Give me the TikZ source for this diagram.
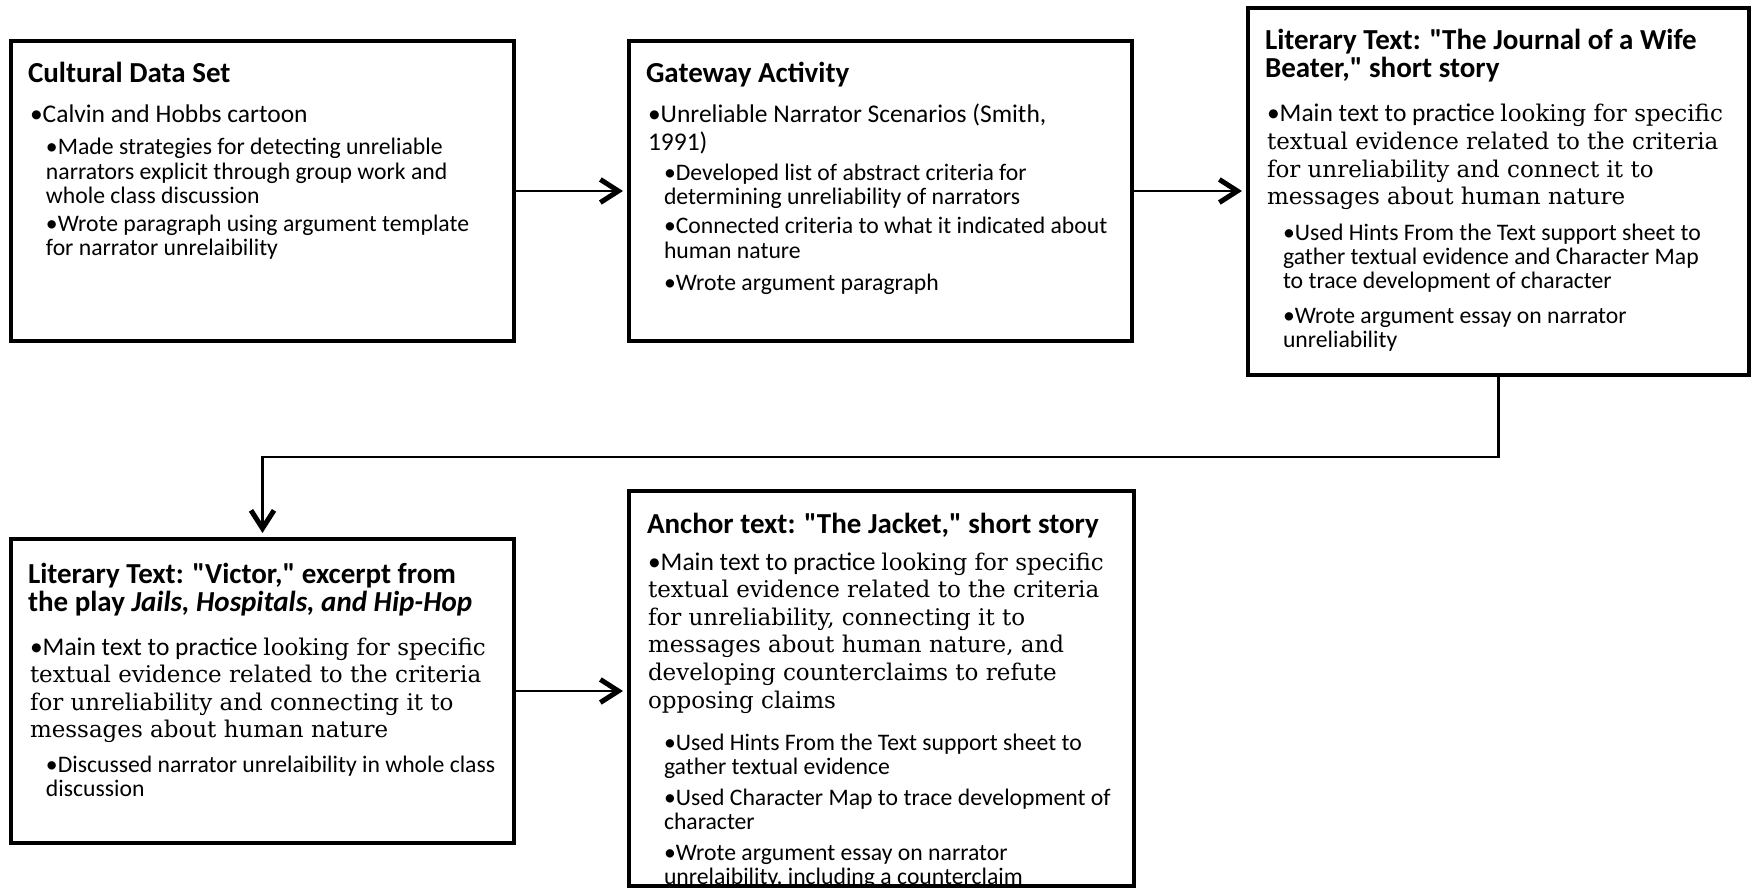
\documentclass[tikz,border=0pt]{standalone}
\usepackage{fontspec}
\setmainfont{Carlito}
\newfontfamily\gserif{DejaVu Serif}
\usetikzlibrary{arrows.meta}
\newsavebox\bulbox
\newcommand{\qt}{{\XeTeXglyph\XeTeXcharglyph"22\relax}}
\newcommand{\ttlf}{\fontsize{14.5pt}{14pt}\selectfont\bfseries}
\newcommand{\laf}{\fontsize{12.75pt}{13.5pt}\selectfont}
\newcommand{\sbf}{\fontsize{11.85pt}{12.25pt}\selectfont}
\newcommand{\serf}{\gserif\fontsize{11.5pt}{13.8pt}\selectfont}
\newcommand{\Blt}[2]{\parbox[t]{270pt}{#1\raggedright\sbox\bulbox{•}\hangindent=\wd\bulbox\hangafter=1\noindent\usebox\bulbox#2}}
\newcommand{\Ttl}[1]{\parbox[t]{270pt}{\ttlf\raggedright #1}}
\tikzset{
  box/.style={draw, line width=2.15pt, inner sep=0pt, outer sep=0pt},
  txt/.style={anchor=base west, inner sep=0pt, outer sep=0pt},
  conn/.style={line width=1.3pt, -{Straight Barb[length=9pt,width=11.5pt,line width=2.5pt]}, shorten >=3pt}
}
\begin{document}
\begin{tikzpicture}[x=0.5pt,y=-0.5pt]
\useasboundingbox (0,0) rectangle (1751,888);
\fill[white] (0,0) rectangle (1751,888);
% boxes
\node[box, minimum width=251.5pt, minimum height=150pt] (b1) at (262.5,191) {};
\node[box, minimum width=251.5pt, minimum height=150pt] (b2) at (880.5,191) {};
\node[box, minimum width=250.5pt, minimum height=183.5pt] (b3) at (1498.5,191.5) {};
\node[box, minimum width=251.5pt, minimum height=152pt] (b4) at (262.5,691) {};
\node[box, minimum width=252.5pt, minimum height=197.5pt] (b5) at (881.5,688.5) {};
% box 1
\node[txt] (t1a) at (28,83) {\Ttl{Cultural Data Set}};
\node[txt] (t1b) at (30,123) {\Blt{\laf}{Calvin and Hobbs cartoon}};
\node[txt] (t1c) at (46,155) {\Blt{\sbf}{Made strategies for detecting unreliable\\ narrators explicit through group work and\\ whole class discussion}};
\node[txt] (t1d) at (46,231) {\Blt{\sbf}{Wrote paragraph using argument template\\ for narrator unrelaibility}};
% box 2
\node[txt] (t2a) at (646,83) {\Ttl{Gateway Activity}};
\node[txt] (t2b) at (648,123) {\Blt{\laf}{Unreliable Narrator Scenarios (Smith,\\ 1991)}};
\node[txt] (t2c) at (664,180) {\Blt{\sbf}{Developed list of abstract criteria for\\ determining unreliability of narrators}};
\node[txt] (t2d) at (664,234) {\Blt{\sbf}{Connected criteria to what it indicated about\\ human nature}};
\node[txt] (t2e) at (664,290) {\Blt{\sbf}{Wrote argument paragraph}};
% box 3
\node[txt] (t3a) at (1265,50) {\Ttl{Literary Text: \qt The Journal of a Wife\\ Beater,\qt{} short story}};
\node[txt] (t3b) at (1267,122) {\Blt{\laf}{Main text to practice {\serf looking for specific\\ textual evidence related to the criteria\\ for unreliability and connect it to\\ messages about human nature\par}}};
\node[txt] (t3c) at (1283,240) {\Blt{\sbf}{Used Hints From the Text support sheet to\\ gather textual evidence and Character Map\\ to trace development of character}};
\node[txt] (t3d) at (1283,323) {\Blt{\sbf}{Wrote argument essay on narrator\\ unreliability}};
% box 4
\node[txt] (t4a) at (28,583) {\Ttl{Literary Text: \qt Victor,\qt{} excerpt from\\ the play \textit{Jails, Hospitals, and Hip-Hop}}};
\node[txt] (t4b) at (30,655) {\Blt{\laf}{Main text to practice {\serf looking for specific\\ textual evidence related to the criteria\\ for unreliability and connecting it to\\ messages about human nature\par}}};
\node[txt] (t4c) at (46,772) {\Blt{\sbf}{Discussed narrator unrelaibility in whole class\\ discussion}};
% box 5
\node[txt] (t5a) at (647,533) {\Ttl{Anchor text: \qt The Jacket,\qt{} short story}};
\node[txt] (t5b) at (648,570) {\Blt{\laf}{Main text to practice {\serf looking for specific\\ textual evidence related to the criteria\\ for unreliability, connecting it to\\ messages about human nature, and\\ developing counterclaims to refute\\ opposing claims\par}}};
\node[txt] (t5c) at (664,750) {\Blt{\sbf}{Used Hints From the Text support sheet to\\ gather textual evidence}};
\node[txt] (t5d) at (664,805) {\Blt{\sbf}{Used Character Map to trace development of\\ character}};
\node[txt] (t5e) at (664,860) {\Blt{\sbf}{Wrote argument essay on narrator\\ unrelaibility, including a counterclaim}};
% connectors
\draw[conn] (b1.east) -- (b2.west);
\draw[conn] (b2.east) -- (b2.east -| b3.west);
\coordinate (bend) at (1498.5,457);
\draw[conn] (b3.south) -- (bend) -| (b4.north);
\draw[conn] (b4.east) -- (b4.east -| b5.west);
% redraw box 5 bottom edge over clipped text
\draw[line width=2.15pt] (b5.south west) -- (b5.south east);
\end{tikzpicture}
\end{document}
